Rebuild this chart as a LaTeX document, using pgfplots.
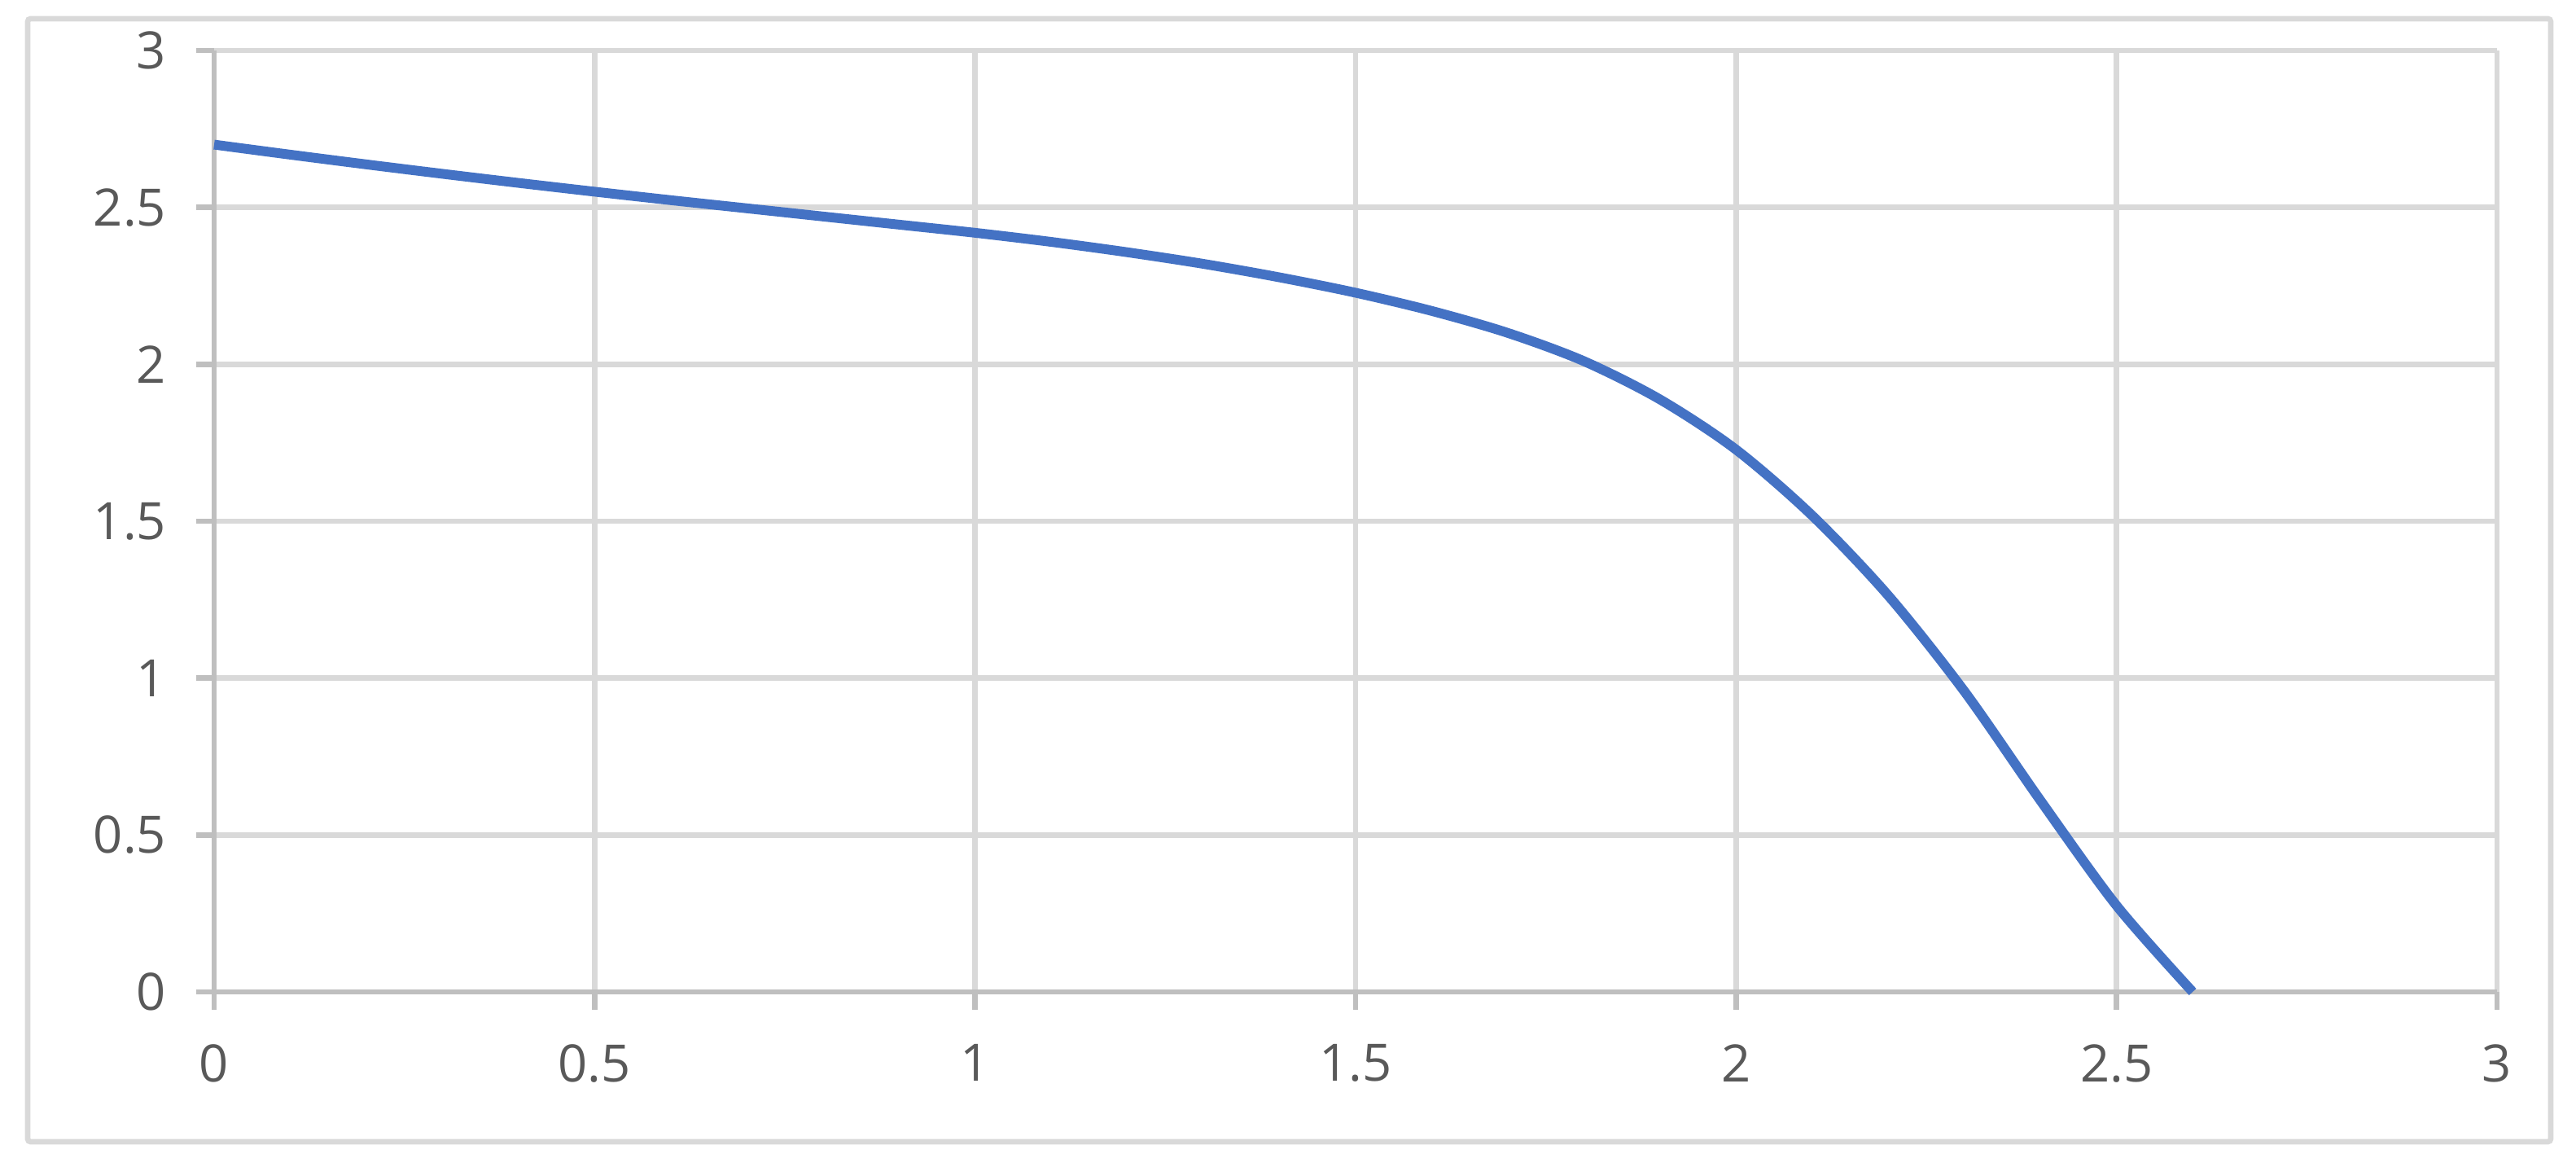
\documentclass[border=0pt]{standalone}
\usepackage{fontspec}
\setmainfont{Open Sans}
\usepackage{pgfplots}
\pgfplotsset{compat=1.18}
\definecolor{gridgray}{HTML}{D9D9D9}
\definecolor{axisgray}{HTML}{BFBFBF}
\definecolor{labelgray}{HTML}{595959}
\definecolor{curveblue}{HTML}{4472C4}

\begin{document}
\begin{tikzpicture}
  \begin{axis}[
    width=14.02cm, height=5.78cm, scale only axis,
    xmin=0, xmax=3, ymin=0, ymax=3,
    xtick={0,0.5,1,1.5,2,2.5,3},
    ytick={0,0.5,1,1.5,2,2.5,3},
    /pgf/number format/assume math mode=true,
    axis lines=left,
    axis line style={draw=axisgray, line width=0.95pt, -},
    grid=major,
    grid style={draw=gridgray, line width=0.95pt},
    tick align=outside,
    major tick length=0.11cm,
    tick style={draw=axisgray, line width=0.95pt},
    tick label style={font=\fontsize{9}{11}\selectfont, text=labelgray},
    xticklabel style={yshift=-0.09cm},
    yticklabel style={xshift=-0.06cm},
    clip=false,
  ]
    % curve
    \addplot[curveblue, line width=1.7pt, smooth, line join=round] coordinates {
      (0.0,2.700) (0.1,2.668) (0.2,2.637) (0.3,2.607) (0.4,2.578)
      (0.5,2.550) (0.6,2.523) (0.7,2.497) (0.8,2.471) (0.9,2.445)
      (1.0,2.419) (1.1,2.390) (1.2,2.357) (1.3,2.320) (1.4,2.277)
      (1.5,2.228) (1.6,2.170) (1.7,2.100) (1.8,2.010) (1.9,1.888)
      (2.0,1.728) (2.1,1.518) (2.2,1.263) (2.3,0.958) (2.4,0.610)
      (2.5,0.275) (2.6,0.0)
    };
    \coordinate (sw) at (rel axis cs:0,0);
    \coordinate (ne) at (rel axis cs:1,1);
  \end{axis}
  \draw[gridgray, line width=0.95pt, rounded corners=0.5pt]
    ([shift={(-1.145cm,-0.92cm)}]sw) rectangle ([shift={(0.33cm,0.195cm)}]ne);
  \path ([shift={(-1.315cm,-1.075cm)}]sw) rectangle ([shift={(0.485cm,0.31cm)}]ne);
\end{tikzpicture}
\end{document}
